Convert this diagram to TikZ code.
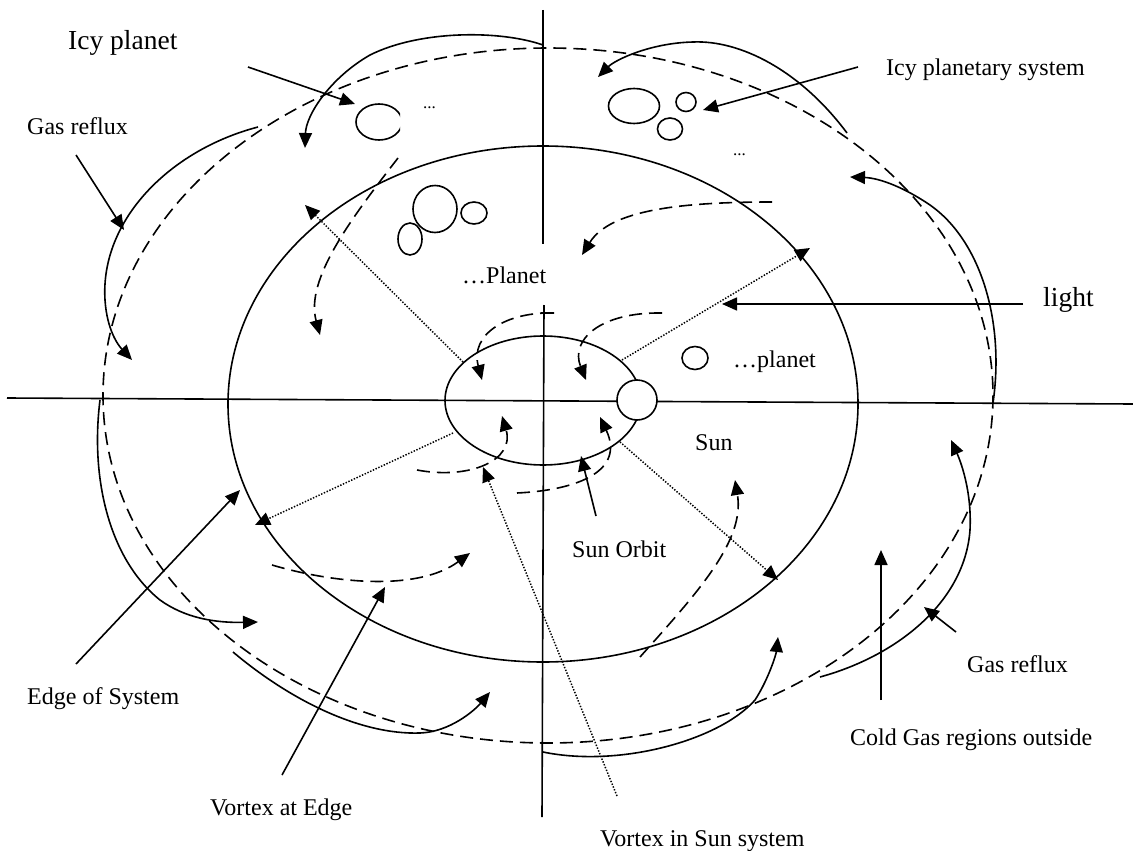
\documentclass[tikz,border=0pt]{standalone}
\usepackage{fontspec}
\setmainfont{Liberation Serif}
\usetikzlibrary{arrows.meta}
\begin{document}
\begin{tikzpicture}[x=1pt,y=-1pt,
  ln/.style={line width=1.6pt},
  tip/.style={-{Triangle[length=15pt,width=13pt]}},
  dsh/.style={line width=1.6pt,dash pattern=on 13pt off 7pt},
  dotl/.style={line width=1.5pt,dash pattern=on 1.4pt off 1.6pt},
  lbl/.style={font=\fontsize{24}{28}\selectfont,inner sep=0pt,anchor=base west},
  biglbl/.style={font=\fontsize{27.5}{32}\selectfont,inner sep=0pt,anchor=base west},
  dots/.style={font=\fontsize{17}{20}\selectfont,inner sep=0pt,anchor=base west}]
\useasboundingbox (0,0) rectangle (1133,851);

% axes
\draw[ln] (7,398) -- (1133,404);
\draw[ln] (543,10) -- (543,244);
\draw[ln] (544,305) -- (542,817);

% ellipses
\draw[ln] (543,404) ellipse [x radius=315, y radius=258];
\draw[ln] (543,400.5) ellipse [x radius=98, y radius=64.5];
\draw[dsh] (548,395.5) ellipse [x radius=445, y radius=347.5];

% sun
\draw[ln,fill=white] (637,400) circle [radius=20];

% planets
\begin{scope}
\clip (300,60) rectangle (400,160);
\draw[ln] (379,122) ellipse [x radius=23, y radius=18];
\end{scope}
\draw[ln] (634,106) ellipse [x radius=25.5, y radius=17.5];
\draw[ln] (686,102) ellipse [x radius=10, y radius=9.5];
\draw[ln] (670,129) ellipse [x radius=12.5, y radius=11];
\draw[ln] (435,209) ellipse [x radius=22, y radius=23.5];
\draw[ln] (474,213) ellipse [x radius=13, y radius=11];
\draw[ln] (410,239) ellipse [x radius=12, y radius=16];
\draw[ln] (695,358) ellipse [x radius=13, y radius=11.5];

% labels
\node[biglbl] (tIcy) at (68,50) {Icy planet};
\node[lbl] (tGasL) at (27,134) {Gas reflux};
\node[lbl] (tIcySys) at (886,75) {Icy planetary system};
\node[biglbl] (tLight) at (1043,306) {light};
\node[lbl] (tPlanet) at (462,283) {\ldots Planet};
\node[lbl] (tplanet) at (733,367) {\ldots planet};
\node[lbl] (tSun) at (695,450) {Sun};
\node[lbl] (tOrbit) at (572,557) {Sun Orbit};
\node[lbl] (tEdge) at (27,704) {Edge of System};
\node[lbl] (tVEdge) at (210,815) {Vortex at Edge};
\node[lbl] (tVSun) at (600,846) {Vortex in Sun system};
\node[lbl] (tGasR) at (967,672) {Gas reflux};
\node[lbl] (tCold) at (850,745) {Cold Gas regions outside};
\node[dots] (d1) at (423,108) {...};
\node[dots] (d2) at (733,155) {...};

% straight label arrows
\coordinate (a1s) at (248,67);  \coordinate (a1t) at (355,104);
\coordinate (a2s) at (76,155);  \coordinate (a2t) at (124,230);
\coordinate (a3s) at (858,67);  \coordinate (a3t) at (703,110);
\coordinate (a4s) at (1023,304); \coordinate (a4t) at (722,304);
\coordinate (a5s) at (76,664);  \coordinate (a5t) at (240,490);
\coordinate (a6s) at (282,775); \coordinate (a6t) at (385,587);
\coordinate (a7s) at (596,516); \coordinate (a7t) at (581,456);
\coordinate (a8s) at (956,632); \coordinate (a8t) at (924,607);
\coordinate (a9s) at (881,700); \coordinate (a9t) at (881,550);
\foreach \i in {1,...,9}{\draw[ln,tip] (a\i s) -- (a\i t);}

% dotted radial arrows
\coordinate (r1s) at (463,362); \coordinate (r1t) at (305,205);
\coordinate (r2s) at (622,360); \coordinate (r2t) at (810,248);
\coordinate (r3s) at (453,433); \coordinate (r3t) at (255,525);
\coordinate (r4s) at (620,442); \coordinate (r4t) at (778,580);
\coordinate (r5s) at (617,796); \coordinate (r5t) at (483,467);
\foreach \i in {1,...,5}{\draw[dotl,tip] (r\i s) -- (r\i t);}

% solid reflux curves
\draw[ln,tip] (258,127) .. controls (170,150) and (100,220) .. (105,300) .. controls (107,330) and (118,345) .. (132,360);
\draw[ln,tip] (543,45) .. controls (500,30) and (420,30) .. (370,55) .. controls (330,78) and (306,115) .. (305,148);
\draw[ln,tip] (847,133) .. controls (800,70) and (740,40) .. (693,42) .. controls (650,43) and (615,60) .. (598,77);
\draw[ln,tip] (993,403) .. controls (1005,320) and (980,240) .. (930,205) .. controls (905,188) and (880,178) .. (850,177);
\draw[ln,tip] (820,677) .. controls (900,655) and (965,600) .. (970,530) .. controls (972,490) and (960,460) .. (951,440);
\draw[ln,tip] (543,752) .. controls (620,768) and (720,740) .. (755,700) .. controls (768,680) and (776,655) .. (778,637);
\draw[ln,tip] (233,652) .. controls (290,700) and (360,735) .. (420,733) .. controls (450,732) and (475,710) .. (490,692);
\draw[ln,tip] (100,400) .. controls (90,480) and (110,560) .. (160,600) .. controls (185,618) and (215,623) .. (258,622);

% dashed vortex arrows
\draw[dsh,tip] (541,313) -- (557,313) .. controls (505,311) and (470,335) .. (482,380);
\draw[dsh,tip] (662,313) .. controls (600,312) and (570,340) .. (586,380);
\draw[dsh,tip] (417,470) .. controls (470,480) and (515,460) .. (502,416);
\draw[dsh,tip] (517,493) .. controls (580,490) and (625,470) .. (600,417);
\draw[dsh,tip] (272,565) .. controls (340,585) and (420,590) .. (470,553);
\draw[dsh,tip] (640,657) .. controls (700,590) and (745,540) .. (735,480);
\draw[dsh,tip] (398,158) .. controls (350,220) and (305,280) .. (320,335);
\draw[dsh,tip] (772,202) .. controls (680,202) and (610,210) .. (582,255);
\end{tikzpicture}
\end{document}
